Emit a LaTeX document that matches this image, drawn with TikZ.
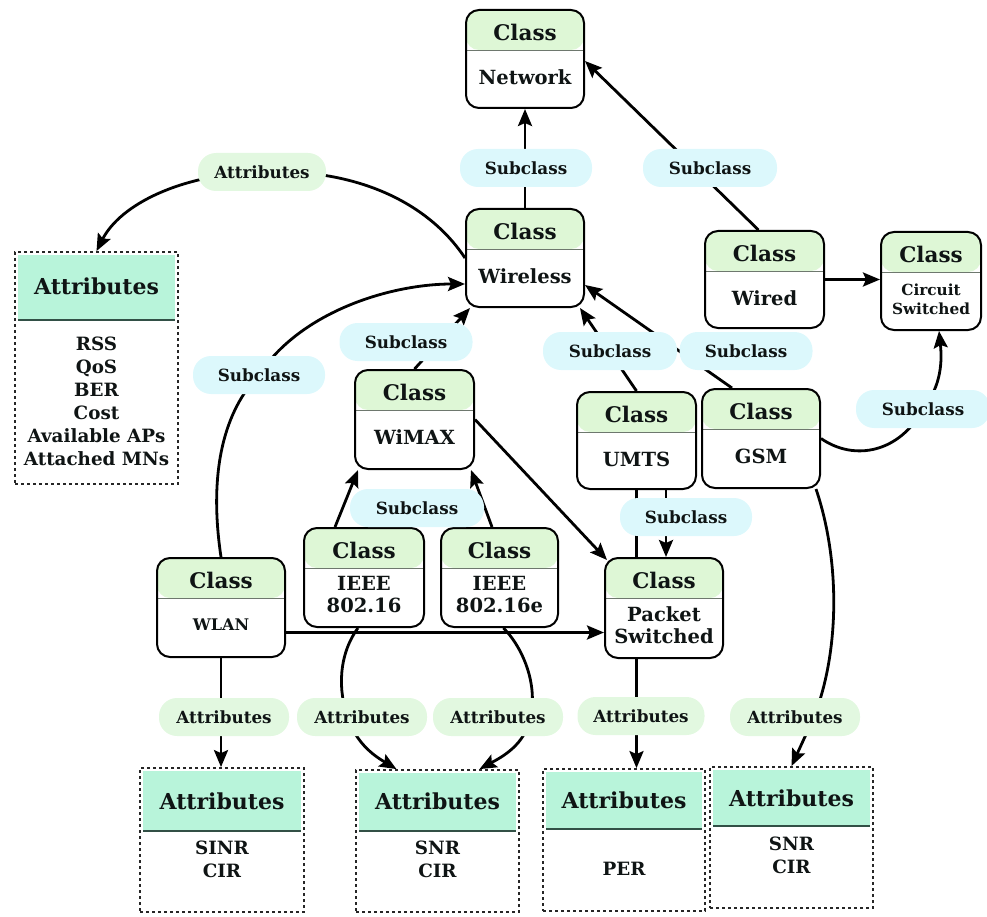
\documentclass[tikz,border=0pt]{standalone}
\usepackage{fontspec}
\setmainfont{DejaVu Serif}
\usetikzlibrary{arrows.meta,calc}
\definecolor{hdr}{RGB}{222,247,214}
\definecolor{ahdr}{RGB}{184,244,218}
\definecolor{subc}{RGB}{220,248,252}
\definecolor{attc}{RGB}{226,248,224}
\definecolor{divc}{RGB}{110,120,110}
\definecolor{adiv}{RGB}{50,80,70}
\definecolor{txt}{RGB}{15,20,20}
\pgfdeclarelayer{bg}
\pgfsetlayers{bg,main}
\newcommand\clsnode[6]{%
  \node[cls, minimum width=#3, minimum height=#4] (#1) at (#2) {};
  \node[ht] (#1H) at ([yshift=-23pt]#1.north) {Class};
  \node[bt, #6] (#1B) at ([yshift=-68pt]#1.north) {#5};}
\begin{document}
\begin{tikzpicture}[x=1pt,y=-1pt,
  every node/.style={text=txt},
  cls/.style={draw=black, line width=2pt, fill=white, rounded corners=13pt, inner sep=0pt,
    path picture={\fill[hdr] (path picture bounding box.north west) rectangle ([yshift=-40pt]path picture bounding box.north east);
      \draw[line width=0.8pt, divc] ([yshift=-40pt]path picture bounding box.north west) -- ([yshift=-40pt]path picture bounding box.north east);}},
  abox/.style={draw=black!85, dash pattern=on 3pt off 3pt, line width=1.8pt, fill=white, inner sep=0pt,
    path picture={\fill[ahdr] ([shift={(3pt,-3pt)}]path picture bounding box.north west) rectangle ([shift={(-3pt,-#1)}]path picture bounding box.north east);
      \draw[solid, line width=1.5pt, adiv] ([shift={(3pt,-#1)}]path picture bounding box.north west) -- ([shift={(-3pt,-#1)}]path picture bounding box.north east);}},
  ht/.style={font=\bfseries\fontsize{21.5}{24}\selectfont, inner sep=0pt},
  bt/.style={font=\bfseries\fontsize{19.5}{22}\selectfont, inner sep=0pt, align=center},
  aht/.style={font=\bfseries\fontsize{22}{24}\selectfont, inner sep=0pt},
  alist/.style={font=\bfseries\fontsize{18.3}{23}\selectfont, inner sep=0pt, align=center},
  pill/.style={fill=#1, rounded corners=18pt, minimum width=130pt, minimum height=38pt, inner sep=0pt,
    font=\bfseries\fontsize{16.8}{18}\selectfont},
  conn/.style={line width=2.8pt, draw=black},
  arr/.style={conn, -{Stealth[length=17pt,width=14pt,inset=3pt]}}
]
\useasboundingbox (0,0) rectangle (987,917);

% class boxes
\clsnode{net}{525,59}{118pt}{98pt}{Network}{}
\clsnode{wir}{525,258}{118pt}{98pt}{Wireless}{}
\clsnode{wired}{764.5,279.5}{119pt}{97pt}{Wired}{}
\clsnode{circ}{931,281}{100pt}{98pt}{Circuit\\Switched}{font=\bfseries\fontsize{15.3}{19}\selectfont}
\clsnode{wimax}{414.5,419.5}{119pt}{99pt}{WiMAX}{}
\clsnode{umts}{636.5,440.5}{119pt}{97pt}{UMTS}{}
\clsnode{gsm}{761,438.5}{118pt}{99pt}{GSM}{}
\clsnode{iA}{364,577.5}{120pt}{99pt}{IEEE\\802.16}{}
\clsnode{iB}{499.5,577.5}{117pt}{99pt}{IEEE\\802.16e}{}
\clsnode{wlan}{221,607.5}{128pt}{99pt}{WLAN}{font=\bfseries\fontsize{16}{18}\selectfont}
\clsnode{pkt}{664,608}{118pt}{100pt}{Packet\\Switched}{}

% attribute boxes
\node[abox=68pt, minimum width=163pt, minimum height=232pt] (aL) at (96.5,368) {};
\node[aht] (aLH) at ([yshift=-35pt]aL.north) {Attributes};
\node[alist] (aLB) at ([yshift=-150.5pt]aL.north) {RSS\\QoS\\BER\\Cost\\Available APs\\Attached MNs};

\node[abox=63pt, minimum width=164pt, minimum height=144pt] (a1) at (222,840) {};
\node[aht] (a1H) at ([yshift=-34pt]a1.north) {Attributes};
\node[alist] (a1B) at ([yshift=-92pt]a1.north) {SINR\\CIR};

\node[abox=61pt, minimum width=163pt, minimum height=142pt] (a2) at (437.5,841) {};
\node[aht] (a2H) at ([yshift=-32pt]a2.north) {Attributes};
\node[alist] (a2B) at ([yshift=-90pt]a2.north) {SNR\\CIR};

\node[abox=60pt, minimum width=162pt, minimum height=142pt] (a3) at (624,840) {};
\node[aht] (a3H) at ([yshift=-32pt]a3.north) {Attributes};
\node[alist] (a3B) at ([yshift=-101pt]a3.north) {PER};

\node[abox=59pt, minimum width=163pt, minimum height=141pt] (a4) at (791.5,837.5) {};
\node[aht] (a4H) at ([yshift=-32pt]a4.north) {Attributes};
\node[alist] (a4B) at ([yshift=-89.5pt]a4.north) {SNR\\CIR};

% pills
\node[pill=subc, minimum width=132pt] (pS1) at (526,168) {Subclass};
\node[pill=subc, minimum width=134pt] (pS2) at (710,168) {Subclass};
\node[pill=attc, minimum width=128pt] (pA0) at (262,172) {Attributes};
\node[pill=subc, minimum width=132pt] (pS3) at (259,375) {Subclass};
\node[pill=subc, minimum width=133pt] (pS4) at (406,342) {Subclass};
\node[pill=subc, minimum width=134pt] (pS5) at (610,351) {Subclass};
\node[pill=subc, minimum width=133pt] (pS6) at (746,351) {Subclass};
\node[pill=subc, minimum width=134pt] (pS7) at (923,409) {Subclass};
\node[pill=subc, minimum width=134pt] (pS8) at (417,508) {Subclass};
\node[pill=subc, minimum width=132pt] (pS9) at (686,517) {Subclass};
\node[pill=attc] (pA1) at (224,717) {Attributes};
\node[pill=attc] (pA2) at (362,717) {Attributes};
\node[pill=attc] (pA3) at (498,717) {Attributes};
\node[pill=attc, minimum width=127pt] (pA4) at (641,716) {Attributes};
\node[pill=attc] (pA5) at (795,717) {Attributes};

\begin{pgfonlayer}{bg}
% subclass links
\draw[arr] (wir.north) -- (net.south);
\draw[arr] ([xshift=-6pt]wired.north) -- ([yshift=-2pt]net.east);
\draw[arr] (wlan.north) .. controls (208,470) and (225,410) .. (pS3.center)
   .. controls (300,312) and (390,284) .. ([yshift=-26pt]wir.west);
\draw[arr] (wimax.north) -- ([xshift=5pt]wir.south west);
\draw[arr] (umts.north) -- ([xshift=-5pt]wir.south east);
\draw[arr] ([xshift=-29pt]gsm.north) -- ([yshift=-27pt]wir.east);
\draw[arr] (gsm.east) .. controls (855,462) and (900,452) .. (pS7.center)
   .. controls (942,385) and (942,360) .. ([xshift=8pt]circ.south);
\draw[arr] (wired.east) -- (wired.east -| circ.west);
\draw[arr] ([xshift=-29pt]iA.north) -- ([xshift=4pt]wimax.south west);
\draw[arr] ([xshift=-7.5pt]iB.north) -- ([xshift=-4pt]wimax.south east);
\draw[arr] (wimax.east) -- ([shift={(3pt,-3pt)}]pkt.north west);
\draw[arr] ([xshift=29.5pt]umts.south) -- ([xshift=29.5pt]umts.south |- pkt.north);
\draw[arr] ([yshift=-25pt]wlan.east) -- ([yshift=-25pt]wlan.east -| pkt.west);
% attribute links
\draw[arr] (wir.west) .. controls (430,205) and (360,168) .. (pA0.center)
   .. controls (180,174) and (120,205) .. (aL.north);
\draw[arr] (wlan.south) -- (wlan.south |- a1.north);
\draw[arr] ([xshift=-6pt]iA.south) .. controls (338,655) and (338,692) .. ([xshift=-14pt]pA2.center)
   .. controls (356,745) and (378,758) .. ([xshift=-41pt]a2.north);
\draw[arr] ([xshift=4pt]iB.south) .. controls (525,650) and (538,688) .. ([xshift=32pt]pA3.center)
   .. controls (526,745) and (500,758) .. ([xshift=42pt]a2.north);
\draw[arr] (umts.south) -- (umts.south |- a3.north);
\draw[arr] ([xshift=-5pt]gsm.south east) .. controls (840,560) and (840,650) .. ([xshift=19pt]pA5.center)
   -- (a4.north);
\end{pgfonlayer}
\end{tikzpicture}
\end{document}
